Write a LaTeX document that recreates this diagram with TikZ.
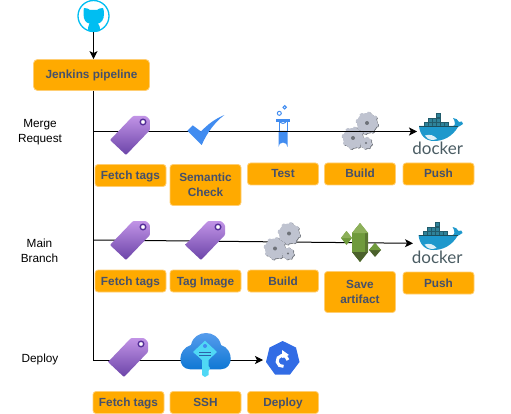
\documentclass[tikz,border=0pt]{standalone}
\usepackage{fontspec}
\setmainfont{Liberation Sans}
\newfontfamily\dockerfont{Lato}
\usetikzlibrary{arrows.meta}
\definecolor{boxfill}{HTML}{FFAA00}
\definecolor{boxedge}{HTML}{FFCE73}
\definecolor{boxtext}{HTML}{45506B}
\definecolor{hubcyan}{HTML}{00BEF2}
\definecolor{iconblue}{HTML}{418CF0}
\definecolor{gearfill}{HTML}{BFC3D0}
\definecolor{geardark}{HTML}{6E7279}
\definecolor{whale}{HTML}{1E98CC}
\definecolor{crate}{HTML}{2F8299}
\definecolor{wordgrey}{HTML}{4A5C63}
\definecolor{tagtop}{HTML}{C193E6}
\definecolor{tagbottom}{HTML}{6B44A8}
\definecolor{tagring}{HTML}{552F99}
\definecolor{gemlight}{HTML}{8DB05A}
\definecolor{gemmid}{HTML}{6F9A3C}
\definecolor{gemdark}{HTML}{4B612C}
\definecolor{cloudtop}{HTML}{5EA0EF}
\definecolor{cloudbottom}{HTML}{0F78D4}
\definecolor{keycyan}{HTML}{50D8F5}
\definecolor{helmblue}{HTML}{326CE5}
\newcommand{\gearshape}[3]{
    \begin{scope}[shift={(#1,#2)}]
        \fill[geardark, shift={(0.7,0.6)}] plot[samples=81, domain=0:360] (\x:{#3*(1+0.13*(sin(8*\x)>0))}) -- cycle;
        \fill[gearfill] plot[samples=81, domain=0:360] (\x:{#3*(1+0.13*(sin(8*\x)>0))}) -- cycle;
        \fill[geardark] (0,0) circle ({#3*0.2});
    \end{scope}
}
\tikzset{
    stage/.style={draw=boxedge, fill=boxfill, rounded corners=3pt, line width=0.8pt, text=boxtext, align=center,
        font=\fontsize{11.8}{15}\selectfont\bfseries, minimum width=71pt, minimum height=22pt, inner sep=0pt,
        text height=9pt, text depth=1pt},
    tallstage/.style={stage, minimum height=41pt, text height=, text depth=},
    caption/.style={align=center, font=\fontsize{11.8}{15}\selectfont, inner sep=0pt},
    flow/.style={line width=1pt, -{Stealth[length=8pt, width=8pt, inset=2pt]}},
    pics/tagicon/.style={code={
        \path[top color=tagtop, bottom color=tagbottom, rounded corners=1pt]
            (110,140) -- (133,116) -- (146,116) -- (150,120) -- (150,130) -- (126,155) -- cycle;
        \draw[draw=tagring, fill=white, line width=1.4pt] (143,122) circle (2.8);
    }},
    pics/gearicon/.style={code={
        \gearshape{367}{123}{10}
        \gearshape{353}{138}{10}
        \gearshape{366}{143}{5.5}
    }},
    pics/dockericon/.style={code={
        \foreach \cx/\cy in {436/113, 428/118, 432/118, 436/118, 424/122, 428/122, 432/122, 436/122, 440/122, 444/122}
            \draw[fill=crate, draw=crate!70!black, line width=0.2pt] (\cx,\cy) rectangle ++(4,4.2);
        \fill[whale] (419,126) -- (453,126) .. controls (456,126) and (455,121) .. (453,118)
            .. controls (456,118) and (458,120) .. (459,122) .. controls (461,120) and (463,122) .. (463,124)
            .. controls (461,126) and (459,126) .. (458,127) .. controls (452,137) and (443,141) .. (434,141)
            .. controls (425,141) and (420,135) .. (419,126) -- cycle;
        \fill[white!85!whale] (425,135.5) .. controls (430,134) and (434,135) .. (437,139) .. controls (432,141) and (428,140) .. (425,135.5) -- cycle;
        \draw[crate!60!black, line width=0.4pt] (419,126) -- (458,126);
        \node[text=wordgrey, inner sep=0pt, font=\dockerfont\fontsize{17}{17}\selectfont] (word) at (437.7,148) {docker};
    }}
}
\begin{document}
\begin{tikzpicture}[x=1pt, y=-1pt]
    \useasboundingbox (0,0) rectangle (511,414);

    \node[draw=hubcyan, fill=white, circle, line width=1.3pt, minimum size=31pt, inner sep=0pt] (github) at (93.5,16) {};
    \fill[hubcyan] (84,8) .. controls (87,8) and (89,9) .. (90,10) -- (97,10) .. controls (98,9) and (100,8) .. (103,8)
        .. controls (104,10) and (104,12) .. (104,14) .. controls (104,20) and (101,23) .. (98,23.5)
        .. controls (99.5,25) and (100,27) .. (100,31) .. controls (96,32) and (91,32) .. (88,31)
        .. controls (88,27) and (88.5,25) .. (89.5,23.5) .. controls (86,23) and (83.5,20) .. (83.5,14)
        .. controls (83.5,12) and (83.5,10) .. (84,8) -- cycle;

    \node[stage, minimum width=116pt, minimum height=31pt, rounded corners=4pt] (jenkins) at (91.5,75) {Jenkins pipeline};

    \node[caption] (mergelabel) at (40,132) {Merge\\Request};
    \node[caption] (mainlabel) at (39.5,251) {Main\\Branch};
    \node[caption] (deploylabel) at (40,359) {Deploy};

    \node[stage] (mrfetch) at (130.5,175.5) {Fetch tags};
    \node[tallstage] (mrcheck) at (205.5,185) {Semantic\\Check};
    \node[stage] (mrtest) at (283,174) {Test};
    \node[stage] (mrbuild) at (360,174) {Build};
    \node[stage] (mrpush) at (438.5,174) {Push};

    \node[stage] (mainfetch) at (130.5,281) {Fetch tags};
    \node[stage] (maintag) at (205.5,281) {Tag Image};
    \node[stage] (mainbuild) at (283,281) {Build};
    \node[tallstage] (mainsave) at (360,292) {Save\\artifact};
    \node[stage] (mainpush) at (438.5,283) {Push};

    \node[stage] (depfetch) at (128.5,402.5) {Fetch tags};
    \node[stage] (depssh) at (205.5,402.5) {SSH};
    \node[stage] (depdeploy) at (283,402.5) {Deploy};

    \draw[iconblue, line width=1pt] (279.5,120) arc (180:0:3.5);
    \fill[iconblue] (275.7,119.5) rectangle (290,122);
    \draw[iconblue, line width=1pt] (279.3,113.3) circle (2) (284.7,107.3) circle (1.7);
    \draw[iconblue, line width=1pt] (279,122) -- (279,131) (287,122) -- (287,131);
    \fill[iconblue] (278.5,131) -- (287.5,131) -- (287.5,147) arc (0:-180:4.5) -- cycle;
    \pic (mrgears) at (0,0) {gearicon};
    \pic (mrwhale) at (0,0) {dockericon};
    \pic (mainwhale) at (-0.5,109) {dockericon};

    \coordinate (mrstart) at (93.5,131.5);
    \coordinate (mrend) at (417,131.5);
    \coordinate (mainstart) at (93.5,240);
    \coordinate (mainend) at (413,243.3);
    \coordinate (depend) at (263,360);

    \draw[flow] (mrstart) -- (mrend);
    \draw[flow] (mainstart) -- (mainend);
    \draw[flow] (jenkins.south -| github.south) |- (depend);
    \draw[flow] (github.south) -- (jenkins.north -| github.south);

    \pic (mrtagicon) at (0,0) {tagicon};
    \pic (maintagicon) at (0,105) {tagicon};
    \pic (imagetagicon) at (75,105) {tagicon};
    \pic (deptagicon) at (-2,222) {tagicon};
    \pic (maingears) at (-78,110.5) {gearicon};

    \fill[iconblue] (187.3,130.7) -- (192.7,125.3) -- (201,131.5) .. controls (208,124) and (215,119) .. (224.3,115)
        .. controls (214,123) and (207,133) .. (201.7,145) -- cycle;

    \fill[gemmid] (341,238) -- (346.5,231) -- (352,238) -- (346.5,245) -- cycle;
    \fill[gemlight] (341,238) -- (346.5,231) -- (352,238) -- cycle;
    \fill[gemdark] (369,250) -- (375,243) -- (381,250) -- (375,257) -- cycle;
    \fill[gemmid] (369,250) -- (375,243) -- (381,250) -- cycle;
    \fill[gemmid] (352,233) -- (360,223) -- (368,233) -- (368,252) -- (360,262) -- (352,252) -- cycle;
    \fill[gemdark!60!gemmid] (365,233) -- (368,233) -- (368,252) -- (365,252) -- cycle;
    \fill[gemlight] (352,233) -- (360,223) -- (368,233) -- cycle;
    \fill[gemdark] (352,252) -- (360,262) -- (368,252) -- cycle;

    \path[top color=cloudtop, bottom color=cloudbottom] (190,369.3) .. controls (177,369) and (177,349) .. (191,345)
        .. controls (194,329) and (218,329) .. (221,345) .. controls (234,349) and (234,369) .. (221,369.3) -- cycle;
    \fill[keycyan] (205,340.7) -- (217,352) -- (208.5,360) -- (208.5,366) -- (210,368) -- (208.5,371) -- (208.5,375) -- (205,377) -- (202,375) -- (202,360) -- (193,352) -- cycle;
    \fill[iconblue] (205,346) circle (2);
    \draw[iconblue!70!black, line width=0.5pt] (199,352) -- (211,352) (199,355) -- (211,355);

    \fill[helmblue] (282.7,341) -- (296,347.5) -- (299.5,362) -- (290,374.5) -- (275,374.5) -- (266,362) -- (269.5,347.5) -- cycle;
    \draw[white, line width=3pt] (288,360) arc (-10:-280:5.5);
    \fill[white] (282,350) -- (289,355) -- (282,358) -- cycle;
\end{tikzpicture}
\end{document}
